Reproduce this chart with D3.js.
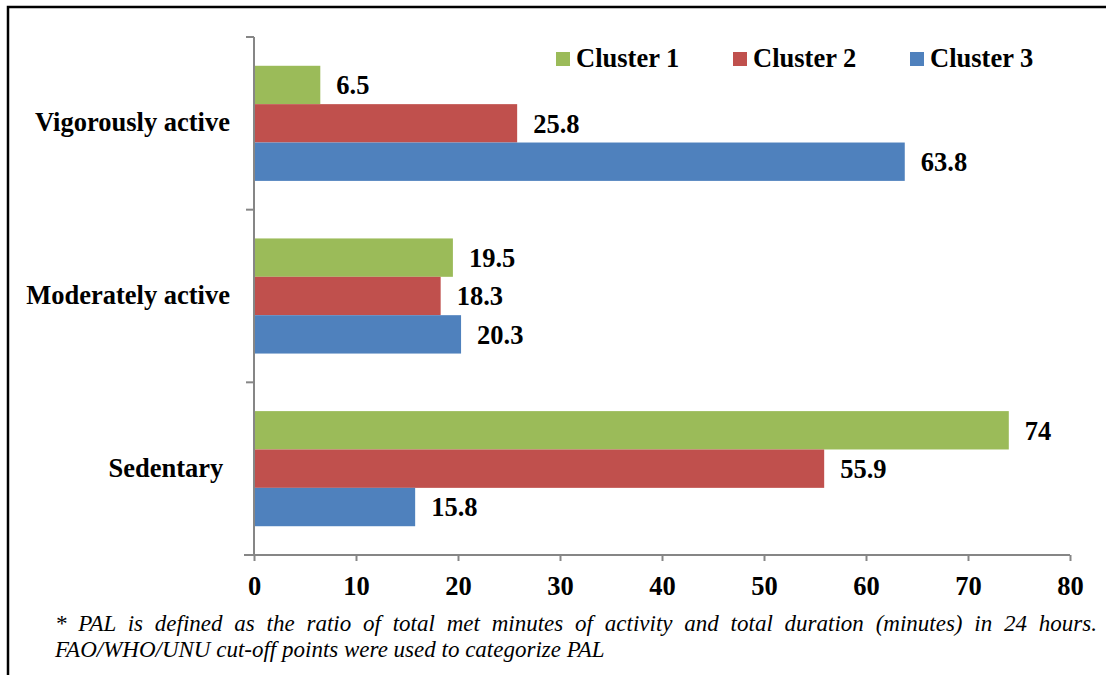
<!DOCTYPE html>
<html>
<head>
<meta charset="utf-8">
<script src="https://cdn.jsdelivr.net/npm/d3@7"></script>
<style>
  html, body { margin: 0; padding: 0; background: #fff; }
  svg { display: block; }
  text { font-family: "Liberation Serif", "Times New Roman", serif; }
</style>
</head>
<body>
<script>
// Physical activity level by cluster (percent)
const categories = ["Vigorously active", "Moderately active", "Sedentary"];
const seriesNames = ["Cluster 1", "Cluster 2", "Cluster 3"];
const cluster1 = [6.5, 19.5, 74];
const cluster2 = [25.8, 18.3, 55.9];
const cluster3 = [63.8, 20.3, 15.8];
const xTicks = [0, 10, 20, 30, 40, 50, 60, 70, 80];
const colors = ["#9BBB59", "#C0504D", "#4F81BD"];
const footnote = [
  "* PAL is defined as the ratio of total met minutes of activity and total duration (minutes) in 24 hours.",
  "FAO/WHO/UNU cut-off points were used to categorize PAL"
];

const W = 1106, H = 675;
const plot = { left: 254, right: 1070, top: 37, bottom: 555 };
const labelSize = 26.5;

const svg = d3.select("body").append("svg")
  .attr("width", W).attr("height", H);

// frame (top and left edges)
svg.append("path")
  .attr("d", `M8,${H} V7 H${W}`)
  .attr("fill", "none").attr("stroke", "#000").attr("stroke-width", 2.5);

const x = d3.scaleLinear().domain([0, 80]).range([plot.left, plot.right]);
const y = d3.scaleBand().domain(categories).range([plot.top, plot.bottom]);
const inner = d3.scaleBand().domain(seriesNames)
  .range([0, y.bandwidth()]).paddingOuter(0.75).paddingInner(0);

const rows = categories.map((c, i) => ({
  category: c,
  values: [cluster1[i], cluster2[i], cluster3[i]].map((v, k) => ({ name: seriesNames[k], value: v, color: colors[k] }))
}));

const axisColor = "#868686";

// bars
const g = svg.append("g");
const groups = g.selectAll("g.cat").data(rows).join("g")
  .attr("transform", d => `translate(0,${y(d.category)})`);

groups.selectAll("rect").data(d => d.values).join("rect")
  .attr("x", x(0))
  .attr("y", d => inner(d.name))
  .attr("width", d => x(d.value) - x(0))
  .attr("height", inner.bandwidth())
  .attr("fill", d => d.color);

groups.selectAll("text.val").data(d => d.values).join("text")
  .attr("class", "val")
  .attr("x", d => x(d.value) + 16)
  .attr("y", d => inner(d.name) + inner.bandwidth() / 2)
  .attr("dy", "0.35em")
  .attr("font-size", labelSize).attr("font-weight", "bold")
  .text(d => d.value);

// x axis
const xAxis = svg.append("g")
  .attr("transform", `translate(0,${plot.bottom})`)
  .call(d3.axisBottom(x).tickValues(xTicks).tickSize(6).tickSizeOuter(0).tickPadding(15));
xAxis.select(".domain").attr("d", `M${plot.left - 10},0H${plot.right}`);
xAxis.selectAll("line").attr("stroke", axisColor).attr("stroke-width", 2);
xAxis.select(".domain").attr("stroke", axisColor).attr("stroke-width", 2);
xAxis.selectAll("text")
  .attr("font-family", "Liberation Serif, Times New Roman, serif")
  .attr("font-size", labelSize).attr("font-weight", "bold").attr("fill", "#000");

// y axis: ticks at category boundaries
const boundaries = categories.map(c => y(c)).concat([plot.bottom]);
const yAxis = svg.append("g");
yAxis.append("line")
  .attr("x1", plot.left).attr("x2", plot.left)
  .attr("y1", plot.top).attr("y2", plot.bottom)
  .attr("stroke", axisColor).attr("stroke-width", 2);
yAxis.selectAll("line.tick").data(boundaries).join("line")
  .attr("class", "tick")
  .attr("x1", plot.left - 8).attr("x2", plot.left)
  .attr("y1", d => d).attr("y2", d => d)
  .attr("stroke", axisColor).attr("stroke-width", 2);

yAxis.selectAll("text").data(categories).join("text")
  .attr("x", 230)
  .attr("y", d => y(d) + y.bandwidth() / 2)
  .attr("dy", "0.3em")
  .attr("text-anchor", "end")
  .attr("font-size", labelSize).attr("font-weight", "bold")
  .style("white-space", "pre")
  .text(d => d === "Sedentary" ? d + " " : d);

// legend
const legendX = [556, 733, 910];
const legend = svg.append("g");
seriesNames.forEach((n, i) => {
  legend.append("rect")
    .attr("x", legendX[i]).attr("y", 52)
    .attr("width", 14).attr("height", 14)
    .attr("fill", colors[i]);
  legend.append("text")
    .attr("x", legendX[i] + 20).attr("y", 67)
    .attr("font-size", labelSize).attr("font-weight", "bold")
    .text(n);
});

// footnote, first line justified across the frame width
const noteLeft = 55, noteRight = 1097;
const line1 = svg.append("text")
  .attr("x", noteLeft).attr("y", 631)
  .attr("font-size", 23).attr("font-style", "italic")
  .text(footnote[0]);
const natural = line1.node().getComputedTextLength();
const gaps = footnote[0].split(" ").length - 1;
line1.attr("word-spacing", (noteRight - noteLeft - natural) / gaps);
svg.append("text")
  .attr("x", noteLeft).attr("y", 657)
  .attr("font-size", 23).attr("font-style", "italic")
  .text(footnote[1]);
</script>
</body>
</html>
